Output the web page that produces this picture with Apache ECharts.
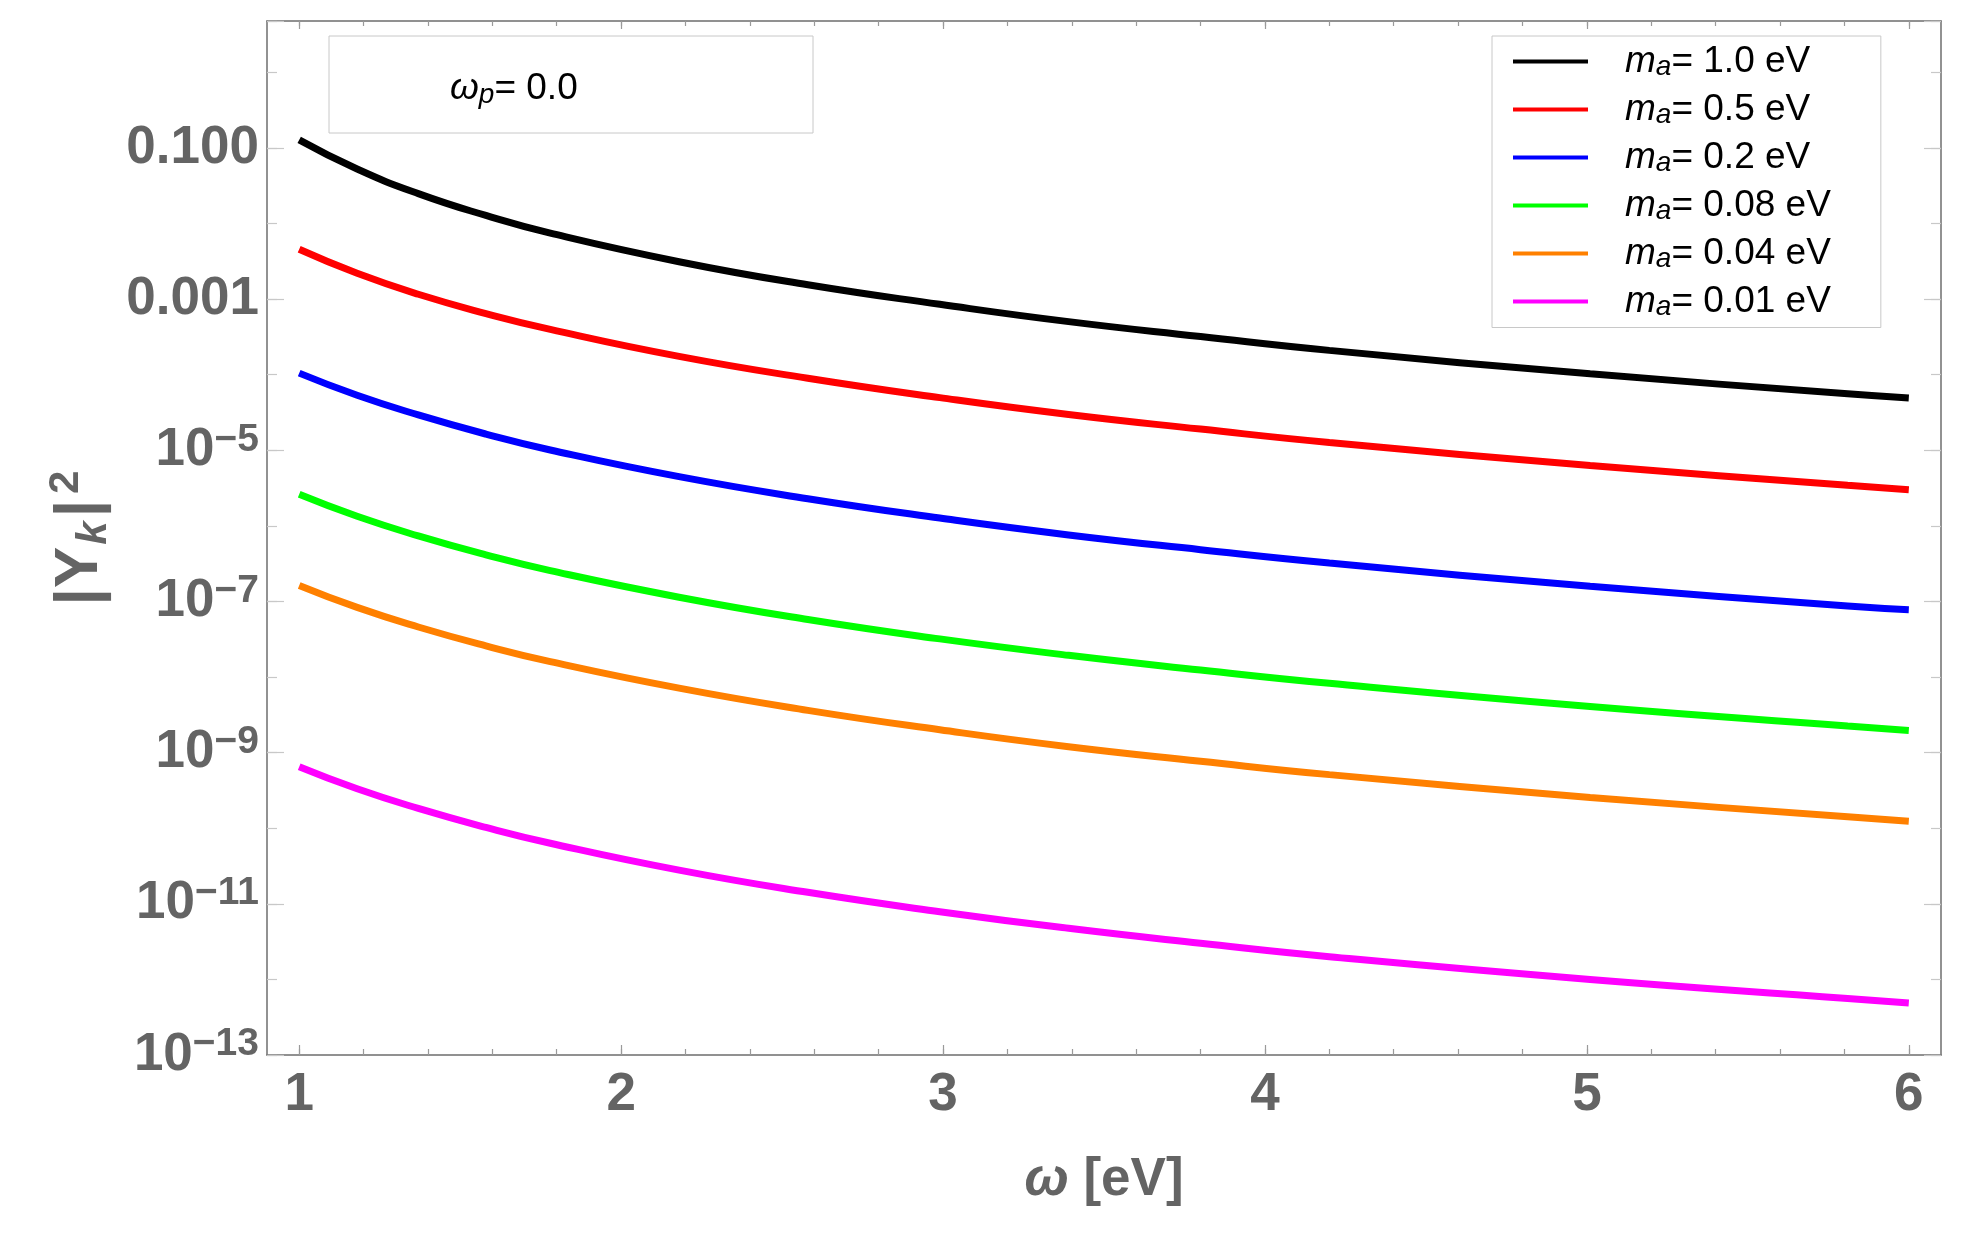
<!DOCTYPE html>
<html>
<head>
<meta charset="utf-8">
<script src="https://cdn.jsdelivr.net/npm/echarts@6/dist/echarts.min.js"></script>
<style>
  html, body { margin: 0; padding: 0; background: #fff; }
  #chart { width: 1980px; height: 1257px; }
</style>
</head>
<body>
<div id="chart"></div>
<script>
// omega [eV] sample points
var omega = [1.0, 1.18, 1.37, 1.58, 1.78, 2.18, 2.58, 2.99, 3.39, 3.8, 4.2, 5.01, 5.81, 6.0];

// |Y_k|^2 for each axion mass
var m1   = [0.128, 0.0527, 0.0249, 0.0128, 7.47e-3, 3.13e-3, 1.55e-3, 8.55e-4, 5.04e-4, 3.20e-4, 2.10e-4, 1.03e-4, 5.60e-5, 4.92e-5];
var m05  = [4.57e-3, 2.20e-3, 1.16e-3, 6.45e-4, 3.98e-4, 1.75e-4, 9.0e-5, 4.98e-5, 2.98e-5, 1.91e-5, 1.27e-5, 6.3e-6, 3.45e-6, 3.01e-6];
var m02  = [1.05e-4, 5.35e-5, 2.94e-5, 1.64e-5, 1.01e-5, 4.48e-6, 2.29e-6, 1.27e-6, 7.6e-7, 4.85e-7, 3.23e-7, 1.59e-7, 8.7e-8, 7.76e-8];
var m008 = [2.62e-6, 1.34e-6, 7.37e-7, 4.14e-7, 2.56e-7, 1.14e-7, 5.78e-8, 3.20e-8, 1.94e-8, 1.24e-8, 8.26e-9, 4.08e-9, 2.25e-9, 1.97e-9];
var m004 = [1.63e-7, 8.35e-8, 4.60e-8, 2.59e-8, 1.60e-8, 7.13e-9, 3.63e-9, 2.01e-9, 1.20e-9, 7.70e-10, 5.12e-10, 2.56e-10, 1.42e-10, 1.24e-10];
var m001 = [6.52e-10, 3.33e-10, 1.83e-10, 1.025e-10, 6.33e-11, 2.79e-11, 1.42e-11, 7.87e-12, 4.74e-12, 3.01e-12, 2.00e-12, 1.0e-12, 5.6e-13, 4.88e-13];

var masses = ['1.0', '0.5', '0.2', '0.08', '0.04', '0.01'];
var curves = [m1, m05, m02, m008, m004, m001];
var colors = ['#000000', '#ff0000', '#0000ff', '#00ff00', '#ff8000', '#ff00ff'];

// x ticks
var xMajor = [1, 2, 3, 4, 5, 6];
var xMinor = [];
for (var t = 1; t <= 6.001; t += 0.2) xMinor.push(Math.round(t * 10) / 10);

var font = 'Liberation Sans, Arial, sans-serif';
var gray = '#646464';
var frame = '#6e6e6e';

var dom = document.getElementById('chart');
var myChart = echarts.init(dom);

function yLabel(v) {
    if (Math.abs(v - Math.round(v)) > 1e-6) return '';
    v = Math.round(v);
    if (v === -1) return '0.100';
    if (v === -3) return '0.001';
    return '{b|10}{e|\u2212' + (-v) + '}';
}

var series = masses.map(function (m, i) {
    return {
        name: 'm_a= ' + m + ' eV',
        type: 'line',
        xAxisIndex: 0,
        yAxisIndex: 0,
        symbol: 'none',
        smooth: 0.5,
        lineStyle: { color: colors[i], width: 7 },
        itemStyle: { color: colors[i] },
        data: omega.map(function (w, j) { return [w, Math.log10(curves[i][j])]; })
    };
});

function xAxisDef(pos, ticks, len, withLabels, withLine) {
    return {
        type: 'value', min: 0.9, max: 6.1, position: pos,
        axisLine: { show: withLine, onZero: false, lineStyle: { color: frame, width: 1.5 } },
        axisTick: { show: true, inside: true, length: len, customValues: ticks,
                    lineStyle: { color: '#9a9a9a', width: 1.2 } },
        axisLabel: withLabels ? {
            show: true, customValues: xMajor, margin: 14,
            fontSize: 53, fontWeight: 'bold', color: gray, fontFamily: font, lineHeight: 53
        } : { show: false },
        splitLine: { show: false }
    };
}

function yAxisDef(pos, interval, len, withLabels, withLine) {
    var ax = {
        type: 'value', min: -13, max: 0.68, interval: interval, position: pos,
        axisLine: { show: withLine, onZero: false, lineStyle: { color: frame, width: 1.5 } },
        axisTick: { show: true, inside: true, length: len, lineStyle: { color: '#c8c8c8', width: 1.2 } },
        axisLabel: { show: false },
        splitLine: { show: false }
    };
    if (withLabels) {
        ax.axisLabel = {
            show: true, margin: 8, formatter: yLabel,
            fontSize: 53, fontWeight: 'bold', color: gray, fontFamily: font, lineHeight: 60,
            rich: {
                b: { fontSize: 53, fontWeight: 'bold', color: gray, fontFamily: font, lineHeight: 60 },
                e: { fontSize: 39, fontWeight: 'bold', color: gray, fontFamily: font, lineHeight: 22, verticalAlign: 'top' }
            }
        };
    }
    return ax;
}

var xMain = xAxisDef('bottom', xMajor, 10, true, true);
xMain.name = '{w|\u03c9} [eV]';
xMain.nameLocation = 'middle';
xMain.nameGap = 95;
xMain.nameTextStyle = {
    fontSize: 53, fontWeight: 'bold', color: gray, fontFamily: font, lineHeight: 60,
    rich: { w: { fontSize: 53, fontWeight: 'bold', fontStyle: 'italic', color: gray, fontFamily: font, lineHeight: 60 } }
};

var yMain = yAxisDef('left', 2, 17, true, true);
yMain.name = '|\u03a5{k|k}|{s|2}';
yMain.nameLocation = 'middle';
yMain.nameGap = 152;
yMain.nameTextStyle = {
    fontSize: 62, fontWeight: 'bold', color: gray, fontFamily: font, lineHeight: 70,
    rich: {
        k: { fontSize: 42, fontWeight: 'bold', fontStyle: 'italic', color: gray, fontFamily: font, lineHeight: 46, verticalAlign: 'bottom', padding: [0, 4, 0, 2] },
        s: { fontSize: 42, fontWeight: 'bold', color: gray, fontFamily: font, lineHeight: 30, verticalAlign: 'top', padding: [0, 0, 0, 6] }
    }
};

var legendRich = {
    m: { fontSize: 37, fontStyle: 'italic', color: '#000', fontFamily: font, lineHeight: 40, padding: [0, 0, 0, 32] },
    a: { fontSize: 28, fontStyle: 'italic', color: '#000', fontFamily: font, lineHeight: 20, verticalAlign: 'bottom' },
    t: { fontSize: 37, color: '#000', fontFamily: font, lineHeight: 40 }
};

var option = {
    animation: false,
    backgroundColor: '#ffffff',
    grid: { left: 267, right: 39, top: 21, bottom: 202, containLabel: false },
    xAxis: [
        xMain,
        xAxisDef('bottom', xMinor, 6, false, false),
        xAxisDef('top', xMajor, 8, false, true),
        xAxisDef('top', xMinor, 5, false, false)
    ],
    yAxis: [
        yMain,
        yAxisDef('left', 1, 10, false, false),
        yAxisDef('right', 2, 17, false, true),
        yAxisDef('right', 1, 10, false, false)
    ],
    legend: {
        orient: 'vertical',
        left: 1492,
        top: 36,
        icon: 'rect',
        itemWidth: 75,
        itemHeight: 4,
        itemGap: 9.5,
        padding: [7, 50, 6, 21],
        backgroundColor: '#ffffff',
        borderColor: '#c8c8c8',
        borderWidth: 1,
        data: series.map(function (s) { return s.name; }),
        formatter: function (name) {
            return '{m|m}{a|a}{t|' + name.slice(3) + '}';
        },
        textStyle: { fontSize: 37, color: '#000', fontFamily: font, rich: legendRich }
    },
    graphic: [
        {
            type: 'rect',
            shape: { x: 329, y: 36, width: 484, height: 97 },
            style: { fill: '#ffffff', stroke: '#c8c8c8', lineWidth: 1 },
            z: 10
        },
        {
            type: 'text',
            x: 450, y: 89,
            z: 11,
            style: {
                text: '{w|\u03c9}{p|p}{t|= 0.0}',
                align: 'left',
                verticalAlign: 'middle',
                rich: {
                    w: { fontSize: 37, fontStyle: 'italic', fill: '#000', fontFamily: font, lineHeight: 40 },
                    p: { fontSize: 28, fontStyle: 'italic', fill: '#000', fontFamily: font, lineHeight: 20, verticalAlign: 'bottom' },
                    t: { fontSize: 37, fill: '#000', fontFamily: font, lineHeight: 40 }
                }
            }
        }
    ],
    series: series
};

if (option && typeof option == "object") {
    myChart.setOption(option, true);
}
</script>
</body>
</html>
